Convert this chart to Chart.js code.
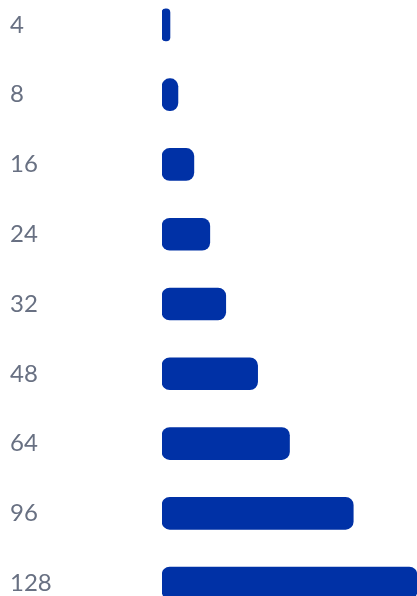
<!DOCTYPE html>
<html lang="en">
<head>
    <meta charset="UTF-8" />
    <title>Bars</title>
    <style>
        html, body { margin: 0; padding: 0; background: #fff; overflow: hidden; }
        #barDash { position: absolute; left: 0; top: -10px; }
    </style>
</head>
<body>
    <canvas id="barDash" width="417" height="628"></canvas>

    <script src="https://cdn.jsdelivr.net/npm/chart.js"></script>
    <script>
        // categorias e valores
        const categorias = ['4', '8', '16', '24', '32', '48', '64', '96', '128'];
        const valores = [4, 8, 16, 24, 32, 48, 64, 96, 128];
        const eixoMax = 128;

        const ctx = document.getElementById('barDash').getContext('2d');
        new Chart(ctx, {
            type: 'bar',
            data: {
                labels: categorias,
                datasets: [{
                    data: valores,
                    backgroundColor: '#0031A6',
                    borderRadius: 8,
                    borderSkipped: false,
                    barThickness: 32
                }]
            },
            options: {
                indexAxis: 'y',
                responsive: false,
                animation: false,
                layout: { padding: { left: 10, right: 0, top: 0, bottom: 0 } },
                plugins: {
                    legend: { display: false },
                    tooltip: { enabled: false }
                },
                scales: {
                    x: {
                        display: false,
                        min: 0,
                        max: eixoMax
                    },
                    y: {
                        border: { display: false },
                        grid: { display: false, drawTicks: false },
                        ticks: {
                            crossAlign: 'far',
                            color: '#687082',
                            font: { family: 'Lato', size: 24, weight: '400' }
                        },
                        afterFit: function (scale) {
                            scale.width = 152; // area do grafico comeca em x=162
                            scale.paddingTop = 0; // sem folga para os rotulos
                            scale.paddingBottom = 0;
                        }
                    }
                }
            }
        });
    </script>
</body>
</html>
